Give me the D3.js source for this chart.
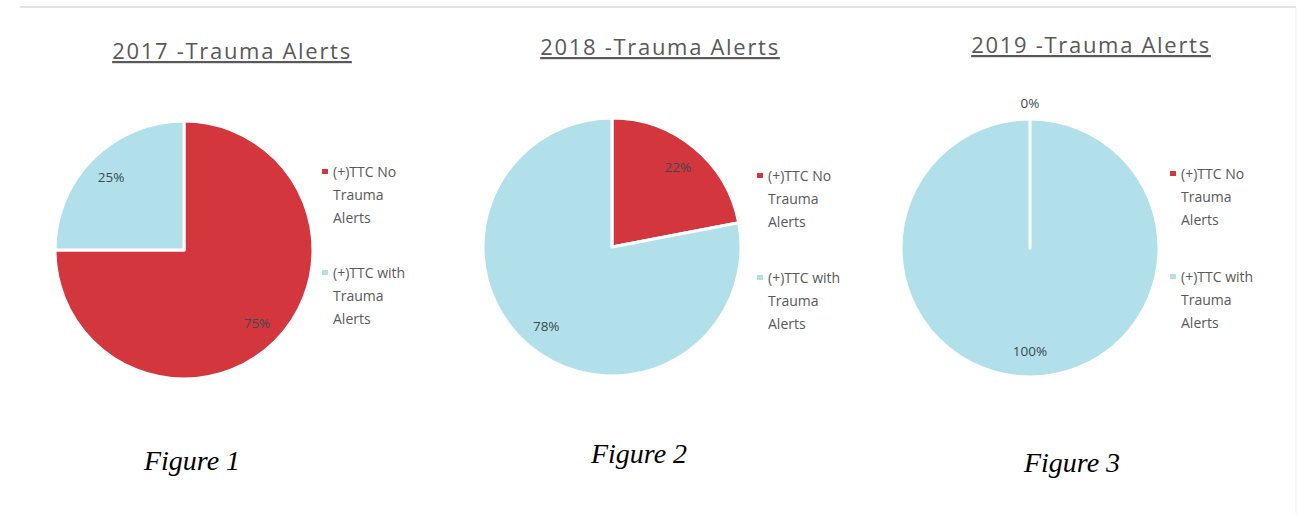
<!DOCTYPE html>
<html>
<head>
<meta charset="utf-8">
<script src="https://cdn.jsdelivr.net/npm/d3@7"></script>
<style>
  body { margin: 0; background: #fff; }
  svg { display: block; }
</style>
</head>
<body>
<div class="container"></div>
<script>
// data
const years = ['2017', '2018', '2019'];
const categories = ['(+)TTC No Trauma Alerts', '(+)TTC with Trauma Alerts'];
const noAlerts = [75, 22, 0];
const withAlerts = [25, 78, 100];
const captions = ['Figure 1', 'Figure 2', 'Figure 3'];

const width = 1299;
const height = 514;

// where each panel sits
const panels = [
  { cx: 184, cy: 250, r: 129, titleX: 232, titleY: 59, legX: 322, legY: [172, 273], capX: 192, capY: 470 },
  { cx: 612, cy: 247, r: 129, titleX: 660, titleY: 55, legX: 757, legY: [176, 278], capX: 639, capY: 463 },
  { cx: 1030, cy: 248, r: 129, titleX: 1091, titleY: 53, legX: 1170, legY: [174, 277], capX: 1072, capY: 472 }
];

const color = d3.scaleOrdinal().domain(categories).range(['#d3363d', '#b2e0ea']);

const svg = d3
  .select('.container')
  .append('svg')
  .attr('width', width)
  .attr('height', height);

// frame lines from the screenshot
svg.append('line')
  .attr('x1', 20).attr('x2', 1296).attr('y1', 7).attr('y2', 7)
  .attr('stroke', '#e2e2e2').attr('stroke-width', 2);
svg.append('line')
  .attr('x1', 1296).attr('x2', 1296).attr('y1', 7).attr('y2', height)
  .attr('stroke', '#ececec').attr('stroke-width', 1);

const pie = d3.pie().sort(null).value((d) => d.value);

years.forEach((year, i) => {
  const p = panels[i];
  const data = [
    { key: categories[0], value: noAlerts[i] },
    { key: categories[1], value: withAlerts[i] }
  ];

  const g = svg.append('g').attr('class', 'panel');

  g.append('text')
    .attr('x', p.titleX)
    .attr('y', p.titleY)
    .attr('text-anchor', 'middle')
    .attr('fill', '#595959')
    .style('font-family', '"Open Sans", sans-serif')
    .style('font-size', '22px')
    .style('letter-spacing', '1.7px')
    .style('text-decoration', 'underline')
    .text(`${year} -Trauma Alerts`);

  const arc = d3.arc().innerRadius(0).outerRadius(p.r);
  const labelArc = d3.arc().innerRadius(p.r * 0.8).outerRadius(p.r * 0.8);
  const outerArc = d3.arc().innerRadius(p.r + 16).outerRadius(p.r + 16);

  const pg = g.append('g').attr('transform', `translate(${p.cx},${p.cy})`);
  const arcs = pie(data);

  pg.selectAll('path')
    .data(arcs)
    .join('path')
    .attr('d', arc)
    .attr('fill', (d) => color(d.data.key))
    .attr('stroke', '#fff')
    .attr('stroke-width', 3)
    .attr('stroke-linejoin', 'round');

  // a zero slice is only its white edge; keep it above the full circle
  pg.selectAll('path').filter((d) => d.data.value === 0).raise();

  pg.selectAll('text')
    .data(arcs)
    .join('text')
    .attr('transform', (d) => `translate(${(d.data.value === 0 ? outerArc : labelArc).centroid(d)})`)
    .attr('text-anchor', 'middle')
    .attr('dy', '0.35em')
    .attr('fill', '#3b4a50')
    .style('font-family', '"Open Sans", sans-serif')
    .style('font-size', '13.5px')
    .text((d) => `${d.data.value}%`);

  // legend, words wrapped like the original
  const leg = g.append('g').attr('class', 'legend');
  categories.forEach((c, j) => {
    const words = c.split(' ');
    const lines = [words.slice(0, 2).join(' '), words[2], words[3]];
    const y0 = p.legY[j];
    leg.append('rect')
      .attr('x', p.legX)
      .attr('y', y0 - 3)
      .attr('width', 6)
      .attr('height', 5)
      .attr('fill', color(c));
    leg.append('text')
      .attr('x', p.legX + 11)
      .attr('y', y0)
      .attr('fill', '#595959')
      .style('font-family', '"Open Sans", sans-serif')
      .style('font-size', '14px')
      .selectAll('tspan')
      .data(lines)
      .join('tspan')
      .attr('x', p.legX + 11)
      .attr('dy', (d, k) => (k === 0 ? '0.35em' : '23px'))
      .text((d) => d);
  });

  g.append('text')
    .attr('x', p.capX)
    .attr('y', p.capY)
    .attr('text-anchor', 'middle')
    .attr('fill', '#000')
    .style('font-family', '"Liberation Serif", serif')
    .style('font-style', 'italic')
    .style('font-size', '28px')
    .text(captions[i]);
});
</script>
</body>
</html>
